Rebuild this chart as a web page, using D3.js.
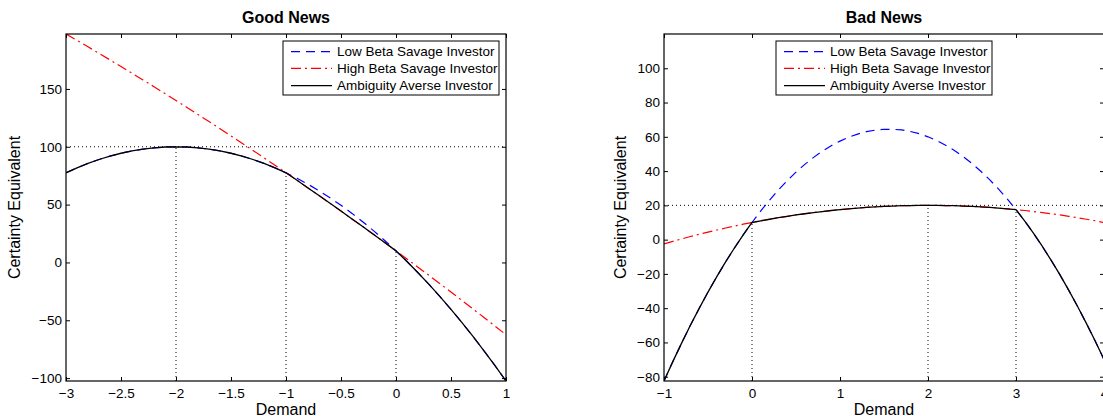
<!DOCTYPE html>
<html>
<head>
<meta charset="utf-8">
<script src="https://cdn.jsdelivr.net/npm/d3@7"></script>
<style>
  body { margin: 0; background: #fff; }
  svg { display: block; font-family: "Liberation Sans", Arial, Helvetica, sans-serif; }
</style>
</head>
<body>
<svg id="chart" width="1103" height="416"></svg>
<script>
// ---------------- DATA ----------------
const seriesNames = ["Low Beta Savage Investor", "High Beta Savage Investor", "Ambiguity Averse Investor"];

// Good News panel
const goodDemand = [-3,-2.9,-2.8,-2.7,-2.6,-2.5,-2.4,-2.3,-2.2,-2.1,-2,-1.9,-1.8,-1.7,-1.6,-1.5,-1.4,-1.3,-1.2,-1.1,-1,-0.9,-0.8,-0.7,-0.6,-0.5,-0.4,-0.3,-0.2,-0.1,0,0.1,0.2,0.3,0.4,0.5,0.6,0.7,0.8,0.9,1];
const goodLowBeta = [77.5,81.8,85.6,89.0,91.9,94.4,96.4,98.0,99.1,99.8,100,99.8,99.1,98.0,96.4,94.4,91.9,89.0,85.6,81.8,77.5,72.8,67.6,62.0,55.9,49.4,42.4,35.0,27.1,18.8,10.0,0.8,-8.9,-19.0,-29.6,-40.6,-52.1,-64.0,-76.4,-89.2,-102.5];
const goodHighBeta = [197.5,192.0,186.4,180.8,175.1,169.4,163.6,157.8,151.9,146.0,140.0,134.0,127.9,121.8,115.6,109.4,103.1,96.8,90.4,84.0,77.5,71.0,64.4,57.8,51.1,44.4,37.6,30.8,23.9,17.0,10.0,3.0,-4.1,-11.2,-18.4,-25.6,-32.9,-40.2,-47.6,-55.0,-62.5];
const goodAmbiguity = [77.5,81.8,85.6,89.0,91.9,94.4,96.4,98.0,99.1,99.8,100,99.8,99.1,98.0,96.4,94.4,91.9,89.0,85.6,81.8,77.5,71.0,64.4,57.8,51.1,44.4,37.6,30.8,23.9,17.0,10.0,0.8,-8.9,-19.0,-29.6,-40.6,-52.1,-64.0,-76.4,-89.2,-102.5];
const goodGuideX = [-2, -1, 0];
const goodGuideTop = [100, 77.5, 10];
const goodLevel = 100;
const goodXTicks = [-3,-2.5,-2,-1.5,-1,-0.5,0,0.5,1];
const goodYTicks = [-100,-50,0,50,100,150];
const goodXDomain = [-3, 1];
const goodYDomain = [-102.5, 197.5];

// Bad News panel
const badDemand = [-1,-0.9,-0.8,-0.7,-0.6,-0.5,-0.4,-0.3,-0.2,-0.1,0,0.1,0.2,0.3,0.4,0.5,0.6,0.7,0.8,0.9,1,1.1,1.2,1.3,1.4,1.5,1.6,1.7,1.8,1.9,2,2.1,2.2,2.3,2.4,2.5,2.6,2.7,2.8,2.9,3,3.1,3.2,3.3,3.4,3.5,3.6,3.7,3.8,3.9,4];
const badLowBeta = [-82.5,-71.2,-60.4,-50.0,-40.1,-30.6,-21.6,-13.0,-4.9,2.8,10.0,16.8,23.1,29.0,34.4,39.4,43.9,48.0,51.6,54.8,57.5,59.8,61.6,63.0,63.9,64.4,64.4,64.0,63.1,61.8,60.0,57.8,55.1,52.0,48.4,44.4,39.9,35.0,29.6,23.8,17.5,10.8,3.6,-4.0,-12.1,-20.6,-29.6,-39.0,-48.9,-59.2,-70.0];
const badHighBeta = [-2.5,-1.0,0.4,1.8,3.1,4.4,5.6,6.8,7.9,9.0,10.0,11.0,11.9,12.8,13.6,14.4,15.1,15.8,16.4,17.0,17.5,18.0,18.4,18.8,19.1,19.4,19.6,19.8,19.9,20.0,20.0,20.0,19.9,19.8,19.6,19.4,19.1,18.8,18.4,18.0,17.5,17.0,16.4,15.8,15.1,14.4,13.6,12.8,11.9,11.0,10.0];
const badAmbiguity = [-82.5,-71.2,-60.4,-50.0,-40.1,-30.6,-21.6,-13.0,-4.9,2.8,10.0,11.0,11.9,12.8,13.6,14.4,15.1,15.8,16.4,17.0,17.5,18.0,18.4,18.8,19.1,19.4,19.6,19.8,19.9,20.0,20.0,20.0,19.9,19.8,19.6,19.4,19.1,18.8,18.4,18.0,17.5,10.8,3.6,-4.0,-12.1,-20.6,-29.6,-39.0,-48.9,-59.2,-70.0];
const badGuideX = [0, 2, 3];
const badGuideTop = [10, 20, 17.5];
const badLevel = 20;
const badXTicks = [-1,0,1,2,3,4];
const badYTicks = [-80,-60,-40,-20,0,20,40,60,80,100];
const badXDomain = [-1, 4];
const badYDomain = [-82.5, 120];

// ---------------- STYLE / LAYOUT ----------------
const seriesStyles = [
  { color: "#0000ff", dash: "9,6", width: 1.2 },
  { color: "#ff0000", dash: "10,4,2,4", width: 1.2 },
  { color: "#000000", dash: null, width: 1.3 }
];

const panels = [
  { title: "Good News", box: { left: 66, right: 506, top: 34, bottom: 381 },
    x: goodDemand, ys: [goodLowBeta, goodHighBeta, goodAmbiguity],
    guideX: goodGuideX, guideTop: goodGuideTop, level: goodLevel,
    xTicks: goodXTicks, yTicks: goodYTicks, xDomain: goodXDomain, yDomain: goodYDomain,
    legend: { x: 283, y: 41, w: 216, h: 54 }, ylabelX: 20 },
  { title: "Bad News", box: { left: 664, right: 1104, top: 34, bottom: 381 },
    x: badDemand, ys: [badLowBeta, badHighBeta, badAmbiguity],
    guideX: badGuideX, guideTop: badGuideTop, level: badLevel,
    xTicks: badXTicks, yTicks: badYTicks, xDomain: badXDomain, yDomain: badYDomain,
    legend: { x: 776, y: 41, w: 216, h: 54 }, ylabelX: 625.5 }
];

const svg = d3.select("#chart");
const fmt = d => String(d).replace("-", "\u2212");

panels.forEach((p, pi) => {
  const b = p.box;
  const xs = d3.scaleLinear().domain(p.xDomain).range([b.left, b.right]);
  const ys = d3.scaleLinear().domain(p.yDomain).range([b.bottom, b.top]);
  const g = svg.append("g");

  const clipId = "clip" + pi;
  svg.append("clipPath").attr("id", clipId)
    .append("rect").attr("x", b.left).attr("y", b.top)
    .attr("width", b.right - b.left).attr("height", b.bottom - b.top);

  // dotted guides
  const guides = g.append("g").attr("clip-path", `url(#${clipId})`);
  guides.append("line")
    .attr("x1", xs(p.xDomain[0])).attr("x2", xs(p.xDomain[1]))
    .attr("y1", ys(p.level)).attr("y2", ys(p.level))
    .attr("stroke", "#000").attr("stroke-width", 1).attr("stroke-dasharray", "1,3");
  p.guideX.forEach((gx, i) => {
    guides.append("line")
      .attr("x1", xs(gx)).attr("x2", xs(gx))
      .attr("y1", ys(p.yDomain[0])).attr("y2", ys(p.guideTop[i]))
      .attr("stroke", "#000").attr("stroke-width", 1).attr("stroke-dasharray", "1,3");
  });

  // series
  const lines = g.append("g").attr("clip-path", `url(#${clipId})`);
  p.ys.forEach((vals, si) => {
    const st = seriesStyles[si];
    const line = d3.line().x((d, i) => xs(p.x[i])).y(d => ys(d));
    lines.append("path").datum(vals)
      .attr("d", line)
      .attr("fill", "none")
      .attr("stroke", st.color)
      .attr("stroke-width", st.width)
      .attr("stroke-dasharray", st.dash)
      .attr("stroke-linejoin", "round");
  });

  // axes (inward ticks)
  const tickLen = 4;
  const axB = g.append("g").attr("transform", `translate(0,${b.bottom})`)
    .call(d3.axisBottom(xs).tickValues(p.xTicks).tickFormat(fmt).tickSizeInner(-tickLen).tickSizeOuter(0).tickPadding(7));
  const axT = g.append("g").attr("transform", `translate(0,${b.top})`)
    .call(d3.axisTop(xs).tickValues(p.xTicks).tickFormat("").tickSizeInner(-tickLen).tickSizeOuter(0));
  const axL = g.append("g").attr("transform", `translate(${b.left},0)`)
    .call(d3.axisLeft(ys).tickValues(p.yTicks).tickFormat(fmt).tickSizeInner(-tickLen).tickSizeOuter(0).tickPadding(4));
  const axR = g.append("g").attr("transform", `translate(${b.right},0)`)
    .call(d3.axisRight(ys).tickValues(p.yTicks).tickFormat("").tickSizeInner(-tickLen).tickSizeOuter(0));
  [axB, axT, axL, axR].forEach(a => {
    a.select(".domain").remove();
    a.selectAll(".tick line").attr("stroke", "#000").attr("stroke-width", 1);
    a.selectAll("text").attr("fill", "#000").style("font-size", "13.5px")
      .style("font-family", '"Liberation Sans", Arial, sans-serif');
  });

  // box
  g.append("rect").attr("x", b.left).attr("y", b.top)
    .attr("width", b.right - b.left).attr("height", b.bottom - b.top)
    .attr("fill", "none").attr("stroke", "#000").attr("stroke-width", 1.2);

  // title & labels
  const cx = (b.left + b.right) / 2;
  g.append("text").attr("x", cx).attr("y", 23).attr("text-anchor", "middle")
    .style("font-size", "16px").style("font-weight", "bold").text(p.title);
  g.append("text").attr("x", cx).attr("y", 414.5).attr("text-anchor", "middle")
    .style("font-size", "16px").text("Demand");
  g.append("text")
    .attr("transform", `translate(${p.ylabelX},${(b.top + b.bottom) / 2}) rotate(-90)`)
    .attr("text-anchor", "middle").style("font-size", "16px").text("Certainty Equivalent");

  // legend
  const L = p.legend;
  const lg = g.append("g");
  lg.append("rect").attr("x", L.x).attr("y", L.y).attr("width", L.w).attr("height", L.h)
    .attr("fill", "#fff").attr("stroke", "#000").attr("stroke-width", 1);
  const rowY = [10.7, 27.3, 44.7];
  seriesNames.forEach((name, si) => {
    const st = seriesStyles[si];
    const yy = L.y + rowY[si];
    lg.append("line").attr("x1", L.x + 8).attr("x2", L.x + 49).attr("y1", yy).attr("y2", yy)
      .attr("stroke", st.color).attr("stroke-width", st.width).attr("stroke-dasharray", st.dash);
    lg.append("text").attr("x", L.x + 54).attr("y", yy).attr("dy", "0.35em")
      .style("font-size", "13.5px").text(name);
  });
});
</script>
</body>
</html>
